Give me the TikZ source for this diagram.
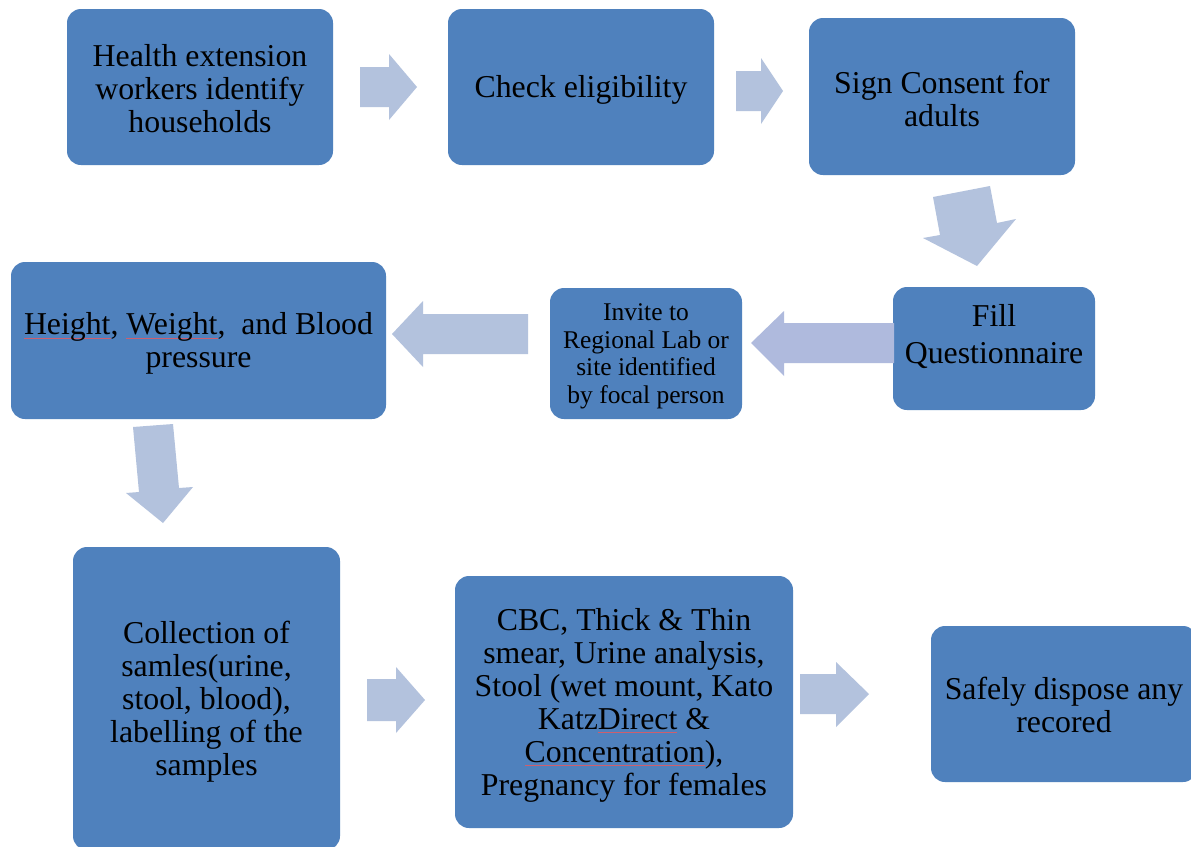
\documentclass[tikz,border=0pt]{standalone}
\usepackage{fontspec}
\setmainfont{Liberation Serif}
\definecolor{boxblue}{HTML}{4F81BD}
\definecolor{arrowfill}{RGB}{179,194,221}
\definecolor{arrowfillb}{RGB}{175,186,221}
\definecolor{spell}{RGB}{205,95,110}
\newcommand\bigfont{\fontsize{31.8}{33}\selectfont}
\newcommand\questfont{\fontsize{31.8}{37}\selectfont}
\newcommand\smallfont{\fontsize{25.5}{27.5}\selectfont}
\newcommand\spellmark[1]{\setbox0\hbox{#1}\rlap{\textcolor{spell}{\rule[-4pt]{\wd0}{0.7pt}}}\box0\relax}
\tikzset{
  box/.style={fill=boxblue, rounded corners=14pt, inner sep=0pt},
  txt/.style={inner sep=0pt, align=center, text=black, font=\bigfont},
  blockarrow/.style={fill=arrowfill},
  blockarrowb/.style={fill=arrowfillb}
}
\begin{document}
\begin{tikzpicture}[x=1pt,y=-1pt]
\clip (0,0) rectangle (1191,846);
\fill[white] (0,0) rectangle (1191,846);
% boxes
\node[box, minimum width=266pt, minimum height=156pt] (hew) at (200,87) {};
\node[box, minimum width=266pt, minimum height=156pt] (elig) at (581,87) {};
\node[box, minimum width=266pt, minimum height=157pt] (consent) at (942,96.5) {};
\node[box, minimum width=202pt, minimum height=123pt] (quest) at (994,348.5) {};
\node[box, minimum width=192pt, minimum height=131pt] (invite) at (646,353.5) {};
\node[box, minimum width=375pt, minimum height=157pt] (hw) at (198.5,340.5) {};
\node[box, minimum width=267pt, minimum height=303pt] (coll) at (206.5,698.5) {};
\node[box, minimum width=338pt, minimum height=252pt] (tests) at (624,702) {};
\node[box, minimum width=266pt, minimum height=156pt] (dispose) at (1064,704) {};
% texts
\node[txt] (hewtxt) at ([yshift=-2pt]hew.center) {Health extension\\workers identify\\households};
\node[txt] (eligtxt) at ([yshift=-3pt]elig.center) {Check eligibility};
\node[txt] (consenttxt) at ([yshift=-2pt]consent.center) {Sign Consent for\\adults};
\node[txt, font=\questfont] (questtxt) at (994,337) {Fill\\Questionnaire};
\node[txt, font=\smallfont] (invitetxt) at ([yshift=-3pt]invite.center) {Invite to\\Regional Lab or\\site identified\\by focal person};
\node[txt] (hwtxt) at ([yshift=-3pt]hw.center) {\spellmark{Height}, \spellmark{Weight},\ \ and Blood\\pressure};
\node[txt] (colltxt) at ([yshift=-3pt]coll.center) {Collection of\\samles(urine,\\stool, blood),\\labelling of the\\samples};
\node[txt] (teststxt) at ([yshift=-3pt]tests.center) {CBC, Thick \& Thin\\smear, Urine analysis,\\Stool (wet mount, Kato\\Katz\spellmark{Direct} \&\\\spellmark{Concentration}),\\Pregnancy for females};
\node[txt] (disposetxt) at ([yshift=-1pt]dispose.center) {Safely dispose any\\recored};
% block arrows
\fill[blockarrow] (360,67) -- (389,67) -- (389,54) -- (417,87) -- (389,120) -- (389,107) -- (360,107) -- cycle;
\fill[blockarrow] (736,71) -- (761,71) -- (761,58) -- (783,91) -- (761,124) -- (761,111) -- (736,111) -- cycle;
\fill[blockarrow] (933,197) -- (990,186) -- (997,223) -- (1016,219) -- (977,266) -- (923,238) -- (940,235) -- cycle;
\fill[blockarrowb] (894,323) -- (784,323) -- (784,311) -- (751,343) -- (784,376) -- (784,363) -- (894,363) -- cycle;
\fill[blockarrow] (528,314) -- (423,314) -- (423,301) -- (392,334) -- (423,367) -- (423,354) -- (528,354) -- cycle;
\fill[blockarrow] (133,427) -- (173,424) -- (179,488) -- (193,487) -- (163,523) -- (126,493) -- (139,492) -- cycle;
\fill[blockarrow] (367,679) -- (396,679) -- (396,667) -- (425,700) -- (396,733) -- (396,721) -- (367,721) -- cycle;
\fill[blockarrow] (800,674) -- (836,674) -- (836,662) -- (869,694) -- (836,727) -- (836,714) -- (800,714) -- cycle;
\end{tikzpicture}
\end{document}
